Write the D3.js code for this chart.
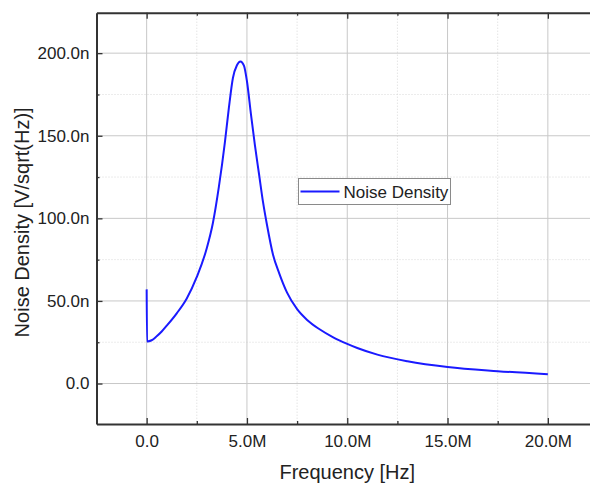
<!DOCTYPE html>
<html>
<head>
<meta charset="utf-8">
<script src="https://cdn.jsdelivr.net/npm/d3@7"></script>
<style>
  body { margin: 0; background: #fff; }
  svg { display: block; font-family: "Liberation Sans", Arial, sans-serif; }
</style>
</head>
<body>
<div id="chart"></div>
<script>
// frequency in MHz, noise density in nV/sqrt(Hz)
const freqMHz = [0, 0.02, 0.25, 0.5, 0.75, 1.0, 1.5, 2.0, 2.5, 3.0, 3.3, 3.6, 3.9, 4.1, 4.3, 4.5, 4.68,
  4.85, 5.0, 5.2, 5.4, 5.6, 5.8, 6.0, 6.3, 6.6, 7.0, 7.5, 8.0, 8.6, 9.3, 10.0, 10.5, 11.5, 13, 15, 17.5, 20];
const densityNV = [57, 25.5, 26.2, 28.6, 31.5, 35, 42.5, 51.5, 64.5, 82, 97, 119, 146, 167, 185, 192.7, 195,
  192.5, 183, 163, 144, 127, 110, 96, 78, 67, 55, 45, 38.5, 33, 28, 24, 21.5, 17.5, 13.5, 10, 7.5, 5.6];
const xTicks = [0, 5, 10, 15, 20];
const xTickLabels = ["0.0", "5.0M", "10.0M", "15.0M", "20.0M"];
const xMinor = [-2.5, 2.5, 7.5, 12.5, 17.5];
const yTicks = [0, 50, 100, 150, 200];
const yTickLabels = ["0.0", "50.0n", "100.0n", "150.0n", "200.0n"];
const yMinor = [25, 75, 125, 175];
const seriesName = "Noise Density";

const width = 590, height = 485;
const plot = { left: 96.5, right: 598, top: 12.7, bottom: 424 };

const data = freqMHz.map((f, i) => ({ f: f, v: densityNV[i] }));

const svg = d3.select("#chart").append("svg")
  .attr("width", width)
  .attr("height", height);

const x = d3.scaleLinear().domain([-2.5, 22.5]).range([plot.left, plot.right]);
const y = d3.scaleLinear().domain([-24.5, 224.5]).range([plot.bottom, plot.top]);

// grid
const grid = svg.append("g");
grid.selectAll(".gxm").data(xMinor).enter().append("line")
  .attr("x1", d => x(d)).attr("x2", d => x(d))
  .attr("y1", plot.top).attr("y2", plot.bottom)
  .attr("stroke", "#d8d8d8").attr("stroke-dasharray", "1,2");
grid.selectAll(".gym").data(yMinor).enter().append("line")
  .attr("x1", plot.left).attr("x2", plot.right)
  .attr("y1", d => y(d)).attr("y2", d => y(d))
  .attr("stroke", "#d8d8d8").attr("stroke-dasharray", "1,2");
grid.selectAll(".gx").data(xTicks).enter().append("line")
  .attr("x1", d => x(d)).attr("x2", d => x(d))
  .attr("y1", plot.top).attr("y2", plot.bottom)
  .attr("stroke", "#c8c8c8");
grid.selectAll(".gy").data(yTicks).enter().append("line")
  .attr("x1", plot.left).attr("x2", plot.right)
  .attr("y1", d => y(d)).attr("y2", d => y(d))
  .attr("stroke", "#c8c8c8");

// curve
const line = d3.line()
  .x(d => x(d.f))
  .y(d => y(d.v))
  .curve(d3.curveMonotoneX);

svg.append("path")
  .datum(data)
  .attr("d", line)
  .attr("fill", "none")
  .attr("stroke", "#1a1aff")
  .attr("stroke-width", 2);

// axes
function styleAxis(g) {
  g.select(".domain").attr("stroke", "#333").attr("stroke-width", 2);
  g.selectAll(".tick line").attr("stroke", "#333").attr("stroke-width", 1.3);
  g.selectAll("text").attr("fill", "#222").style("font-size", "17px");
}

function minorTicks(g) {
  g.select(".domain").remove();
  g.selectAll(".tick line").attr("stroke", "#333").attr("stroke-width", 1.3);
}

const xAxis = svg.append("g")
  .attr("transform", `translate(0,${plot.bottom})`)
  .call(d3.axisBottom(x).tickValues(xTicks).tickSize(-6).tickSizeOuter(0)
    .tickPadding(11).tickFormat((d, i) => xTickLabels[i]));
styleAxis(xAxis);

svg.append("g")
  .attr("transform", `translate(0,${plot.bottom})`)
  .call(d3.axisBottom(x).tickValues(xMinor.filter(d => d > -2.5)).tickSize(-3).tickSizeOuter(0).tickFormat(""))
  .call(minorTicks);

const topAxis = svg.append("g")
  .attr("transform", `translate(0,${plot.top})`)
  .call(d3.axisTop(x).tickValues(xTicks).tickSize(-6).tickSizeOuter(0).tickFormat(""));
styleAxis(topAxis);

svg.append("g")
  .attr("transform", `translate(0,${plot.top})`)
  .call(d3.axisTop(x).tickValues(xMinor.filter(d => d > -2.5)).tickSize(-3).tickSizeOuter(0).tickFormat(""))
  .call(minorTicks);

const yAxis = svg.append("g")
  .attr("transform", `translate(${plot.left},0)`)
  .call(d3.axisLeft(y).tickValues(yTicks).tickSize(-6).tickSizeOuter(0)
    .tickPadding(7).tickFormat((d, i) => yTickLabels[i]));
styleAxis(yAxis);

svg.append("g")
  .attr("transform", `translate(${plot.left},0)`)
  .call(d3.axisLeft(y).tickValues(yMinor).tickSize(-3).tickSizeOuter(0).tickFormat(""))
  .call(minorTicks);

// axis titles
svg.append("text")
  .attr("x", (plot.left + plot.right) / 2)
  .attr("y", 479)
  .attr("text-anchor", "middle")
  .attr("fill", "#222")
  .style("font-size", "20px")
  .text("Frequency [Hz]");

svg.append("text")
  .attr("transform", `translate(29,${(plot.top + plot.bottom) / 2 + 4}) rotate(-90)`)
  .attr("text-anchor", "middle")
  .attr("fill", "#222")
  .style("font-size", "20px")
  .text("Noise Density [V/sqrt(Hz)]");

// legend
const legend = svg.append("g").attr("transform", "translate(298.5,178.5)");
legend.append("rect")
  .attr("width", 152).attr("height", 26)
  .attr("fill", "#fff").attr("stroke", "#8a8a8a").attr("stroke-width", 1);
legend.append("line")
  .attr("x1", 2).attr("x2", 41).attr("y1", 13).attr("y2", 13)
  .attr("stroke", "#1a1aff").attr("stroke-width", 2);
legend.append("text")
  .attr("x", 45).attr("y", 19)
  .attr("fill", "#222")
  .style("font-size", "17px")
  .text(seriesName);
</script>
</body>
</html>
